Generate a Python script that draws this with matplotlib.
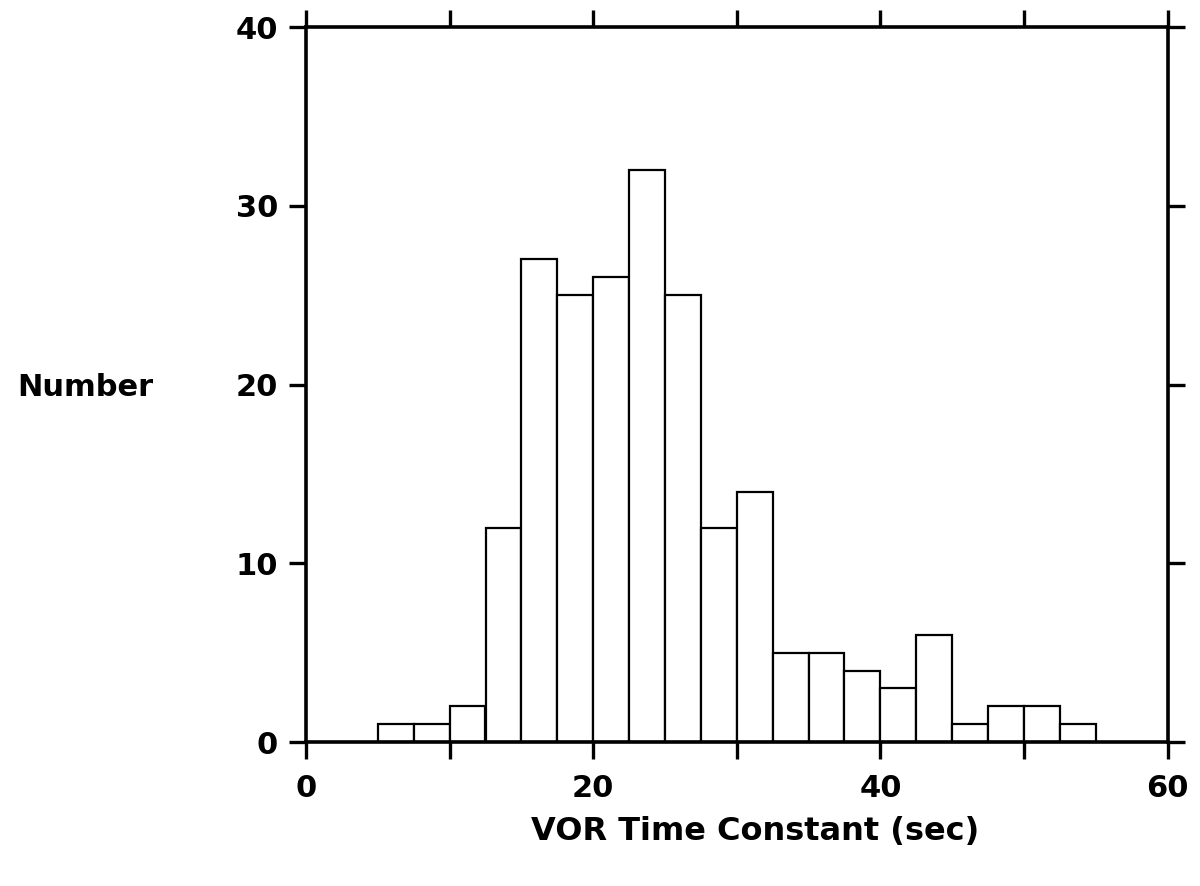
import matplotlib
matplotlib.use("Agg")
import matplotlib.pyplot as plt
import numpy as np

# Histogram data: bin left edges (sec) and counts
bin_edges = [5.0, 7.5, 10.0, 12.5, 15.0, 17.5, 20.0, 22.5, 25.0, 27.5,
             30.0, 32.5, 35.0, 37.5, 40.0, 42.5, 45.0, 47.5, 50.0, 52.5, 55.0]
counts = [1, 1, 2, 12, 27, 25, 26, 32, 25, 12,
          14, 5, 5, 4, 3, 6, 1, 2, 2, 1]

x_ticks = [0, 20, 40, 60]
x_minor = [10, 30, 50]
y_ticks = [0, 10, 20, 30, 40]
x_label = "VOR Time Constant (sec)"
y_label = "Number"

plt.rcParams['font.family'] = ['DejaVu Sans']
plt.rcParams['font.weight'] = 'bold'

fig = plt.figure(figsize=(12, 8.86), dpi=100)
ax = fig.add_axes([0.255, 0.1625, 0.718, 0.807])

lefts = np.array(bin_edges[:-1])
widths = np.diff(bin_edges)
ax.bar(lefts, counts, width=widths, align='edge', facecolor='white',
       edgecolor='black', linewidth=1.6, zorder=2)

ax.set_xlim(0, 60)
ax.set_ylim(0, 40)
ax.set_xticks(x_ticks)
ax.set_xticks(x_minor, minor=True)
ax.set_yticks(y_ticks)

for s in ax.spines.values():
    s.set_linewidth(2.6)

ax.tick_params(axis='both', which='both', direction='out', length=12,
               width=2.4, top=True, right=True, labeltop=False, labelright=False,
               labelsize=22, pad=8)
ax.tick_params(axis='x', which='major', pad=11)
for lbl in ax.get_xticklabels() + ax.get_yticklabels():
    lbl.set_fontweight('bold')

fig.text(0.071, 0.563, y_label, fontsize=22, fontweight='bold',
         ha='center', va='center')
fig.text(0.629, 0.062, x_label, fontsize=23, fontweight='bold',
         ha='center', va='center')

fig.savefig("out.png", dpi=100)
